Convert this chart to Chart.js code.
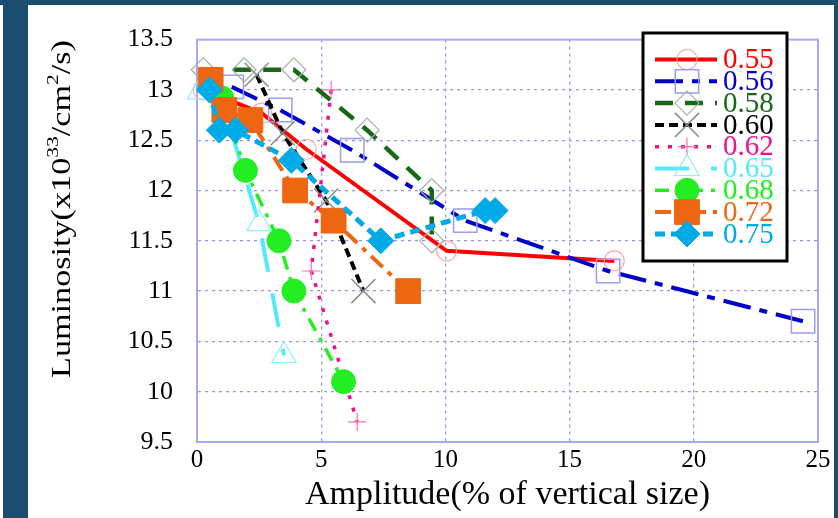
<!DOCTYPE html>
<html>
<head>
<meta charset="utf-8">
<script src="https://cdn.jsdelivr.net/npm/chart.js@4/dist/chart.umd.min.js"></script>
<style>
  html, body { margin: 0; padding: 0; }
  body { width: 838px; height: 518px; background: #1b4d6e; position: relative; overflow: hidden; }
  .sheet { position: absolute; left: 28px; top: 5px; width: 806px; height: 513px; background: #fff; }
  .edge { position: absolute; left: 0; top: 5px; width: 3px; height: 513px; background: #fff; }
  #wrap { position: absolute; left: 0; top: 0; width: 838px; height: 518px; }
</style>
</head>
<body>
<div class="edge"></div>
<div class="sheet"></div>
<div id="wrap"><canvas id="lumChart" width="838" height="518"></canvas></div>
<script>
// tick labels
const xTicks = [0, 5, 10, 15, 20, 25];
const yTicks = [9.5, 10, 10.5, 11, 11.5, 12, 12.5, 13, 13.5];

// series names (legend)
const seriesNames = ['0.55', '0.56', '0.58', '0.60', '0.62', '0.65', '0.68', '0.72', '0.75'];

// amplitude (% of vertical size) / luminosity (x10^33 /cm^2/s) per series
const amp055 = [0.25, 2.6, 4.4, 10.05, 16.8];
const lum055 = [13.0, 12.77, 12.41, 11.4, 11.3];
const amp056 = [1.4, 3.35, 6.25, 10.8, 16.55, 24.4];
const lum056 = [13.03, 12.8, 12.4, 11.7, 11.2, 10.7];
const amp058 = [0.25, 1.9, 3.9, 6.85, 9.45, 9.45];
const lum058 = [13.2, 13.2, 13.2, 12.6, 12.0, 11.5];
const amp060 = [2.4, 3.45, 5.2, 6.7];
const lum060 = [13.15, 12.57, 11.9, 11.0];
const amp062 = [5.4, 4.6, 6.45];
const lum062 = [13.0, 11.2, 9.7];
const amp065 = [0.1, 1.0, 2.5, 3.5];
const lum065 = [12.98, 12.9, 11.67, 10.36];
const amp068 = [1.0, 1.95, 3.3, 3.9, 5.9];
const lum068 = [12.92, 12.2, 11.5, 11.0, 10.1];
const amp072 = [0.55, 1.1, 2.15, 3.95, 5.5, 8.5];
const lum072 = [13.1, 12.8, 12.7, 12.0, 11.7, 11.0];
const amp075 = [0.5, 0.9, 1.55, 3.8, 7.4, 11.6, 12.0];
const lum075 = [13.0, 12.6, 12.6, 12.3, 11.5, 11.8, 11.8];

const ampSets = [amp055, amp056, amp058, amp060, amp062, amp065, amp068, amp072, amp075];
const lumSets = [lum055, lum056, lum058, lum060, lum062, lum065, lum068, lum072, lum075];

const clear = 'rgba(0,0,0,0)';
const styles = [
    { color: '#ff0000', width: 4,   dash: [],            point: 'circle',   r: 10,   edge: '#ffa8a8', bg: clear,     pw: 1.2 },
    { color: '#0000cc', width: 4,   dash: [28, 9, 8, 9], point: 'rect',     r: 16.5, edge: '#9c9cf0', bg: clear,     pw: 1.5 },
    { color: '#186818', width: 4.5, dash: [18, 12],      point: 'rectRot',  r: 12,   edge: '#a0b4a0', bg: clear,     pw: 1.2 },
    { color: '#000000', width: 4,   dash: [9, 5],        point: 'crossRot', r: 17,   edge: '#8a8a8a', bg: clear,     pw: 1.5 },
    { color: '#ee1188', width: 3.5, dash: [4, 9],        point: 'cross',    r: 9,    edge: '#ff70b0', bg: clear,     pw: 1.2 },
    { color: '#55e8ff', width: 4,   dash: [34, 22],      point: 'triangle', r: 14,   edge: '#8cf0ff', bg: clear,     pw: 1.2 },
    { color: '#22ee22', width: 3.5, dash: [14, 8, 4, 8], point: 'circle',   r: 12,   edge: '#22ee22', bg: '#22ee22', pw: 1 },
    { color: '#ee6611', width: 4,   dash: [16, 7, 5, 7], point: 'rect',     r: 17.5, edge: '#ee6611', bg: '#ee6611', pw: 1 },
    { color: '#00aae6', width: 5,   dash: [10, 6],       point: 'rectRot',  r: 13,   edge: '#00aae6', bg: '#00aae6', pw: 1 }
];

const serif = '"Liberation Serif", "Times New Roman", serif';

const datasets = seriesNames.map((name, i) => ({
    label: name,
    data: ampSets[i].map((a, k) => ({ x: a, y: lumSets[i][k] })),
    showLine: true,
    tension: 0,
    clip: false,
    order: seriesNames.length - i,
    borderColor: styles[i].color,
    borderWidth: styles[i].width,
    borderDash: styles[i].dash,
    pointStyle: styles[i].point,
    pointRadius: styles[i].r,
    pointBorderColor: styles[i].edge,
    pointBackgroundColor: styles[i].bg,
    pointBorderWidth: styles[i].pw
}));

// solid frame round the plot area
const plotFrame = {
    id: 'plotFrame',
    beforeDatasetsDraw(chart) {
        const { ctx, chartArea: a } = chart;
        ctx.save();
        ctx.strokeStyle = '#a8a8f4';
        ctx.lineWidth = 2;
        ctx.strokeRect(a.left, a.top, a.right - a.left, a.bottom - a.top);
        ctx.restore();
    }
};

// y axis title with superscripts
const yTitle = {
    id: 'yTitle',
    afterDraw(chart) {
        const ctx = chart.ctx;
        const parts = [['Luminosity(x10', false], ['33', true], ['/cm', false], ['2', true], ['/s)', false]];
        const big = '27px ' + serif, small = '17px ' + serif;
        let total = 0;
        parts.forEach(([t, sup]) => { ctx.font = sup ? small : big; total += ctx.measureText(t).width; });
        ctx.save();
        ctx.translate(70, 209);
        ctx.rotate(-Math.PI / 2);
        ctx.scale(338 / total, 1);
        ctx.fillStyle = '#000';
        ctx.textBaseline = 'alphabetic';
        let x = -total / 2;
        parts.forEach(([t, sup]) => {
            ctx.font = sup ? small : big;
            ctx.fillText(t, x, sup ? -12 : 0);
            x += ctx.measureText(t).width;
        });
        ctx.restore();
    }
};

// boxed legend inside the plot
const boxLegend = {
    id: 'boxLegend',
    afterDraw(chart) {
        const ctx = chart.ctx;
        ctx.save();
        ctx.fillStyle = '#fff';
        ctx.fillRect(643, 33, 144, 228);
        ctx.lineWidth = 3;
        ctx.strokeStyle = '#000';
        ctx.strokeRect(643, 33, 144, 228);
        chart.data.datasets.forEach((ds, i) => {
            const y = 59.5 + i * 21.8;
            ctx.save();
            ctx.strokeStyle = ds.borderColor;
            ctx.lineWidth = ds.borderWidth;
            ctx.setLineDash(ds.borderDash);
            ctx.beginPath();
            ctx.moveTo(655, y);
            ctx.lineTo(717, y);
            ctx.stroke();
            ctx.restore();

            ctx.save();
            ctx.strokeStyle = ds.pointBorderColor;
            ctx.fillStyle = ds.pointBackgroundColor;
            ctx.lineWidth = ds.pointBorderWidth;
            Chart.helpers.drawPoint(ctx, {
                pointStyle: ds.pointStyle, radius: ds.pointRadius,
                borderWidth: ds.pointBorderWidth, rotation: 0
            }, 687, y);
            ctx.restore();

            ctx.fillStyle = ds.borderColor;
            ctx.font = '29px ' + serif;
            ctx.textBaseline = 'middle';
            ctx.fillText(ds.label, 723, y + 1);
        });
        ctx.restore();
    }
};

new Chart(document.getElementById('lumChart').getContext('2d'), {
    type: 'scatter',
    data: { datasets },
    options: {
        responsive: false,
        animation: false,
        events: [],
        layout: { padding: { left: 40, top: 29, right: 20, bottom: 0 } },
        plugins: { legend: { display: false }, tooltip: { enabled: false } },
        scales: {
            x: {
                type: 'linear',
                min: 0,
                max: 25,
                afterBuildTicks: axis => { axis.ticks = xTicks.map(v => ({ value: v })); },
                afterFit: axis => { axis.height = 76; },
                grid: { color: '#9595ee', lineWidth: 1.3, drawTicks: false },
                border: { color: '#a8a8f4', width: 2, dash: [3, 4] },
                ticks: { color: '#000', padding: 3, font: { family: serif, size: 25 }, callback: v => String(v) },
                title: {
                    display: true,
                    text: 'Amplitude(% of vertical size)',
                    color: '#000',
                    padding: { top: 0, bottom: 3 },
                    font: { family: serif, size: 34 }
                }
            },
            y: {
                type: 'linear',
                min: 9.5,
                max: 13.5,
                afterBuildTicks: axis => { axis.ticks = yTicks.map(v => ({ value: v })); },
                afterFit: axis => { axis.width = 157; },
                grid: { color: '#9595ee', lineWidth: 1.3, drawTicks: false },
                border: { color: '#a8a8f4', width: 2, dash: [3, 4] },
                ticks: { color: '#000', padding: 24, font: { family: serif, size: 26 }, callback: v => String(v) }
            }
        }
    },
    plugins: [plotFrame, yTitle, boxLegend]
});
</script>
</body>
</html>
